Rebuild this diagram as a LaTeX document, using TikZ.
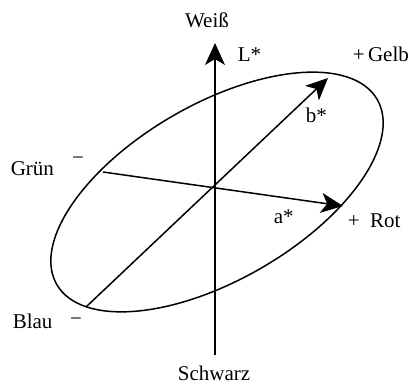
\documentclass[tikz,border=0pt]{standalone}
\usepackage{fontspec}
\setmainfont{Liberation Serif}
\usetikzlibrary{arrows.meta}
\begin{document}
\begin{tikzpicture}[x=1pt,y=-1pt, line width=1.5pt,
  lbl/.style={font=\fontsize{21}{25}\selectfont, inner sep=0pt},
  axarrow/.style={-{Stealth[length=22pt,width=20pt,inset=6pt]}}]
\useasboundingbox (0,0) rectangle (410,385);
\coordinate (O) at (215,187);
\coordinate (Ltop) at (215,43);
\coordinate (Lbot) at (215,355);
\coordinate (blau) at (86,307);
\coordinate (gelb) at (328,78);
\coordinate (gruen) at (103,172);
\coordinate (rot) at (343,206);
\coordinate (ec) at (217,192);
\draw[rotate around={30:(ec)}] (ec) ellipse [x radius=185, y radius=88];
\draw[axarrow] (Lbot) -- (Ltop);
\draw[axarrow] (blau) -- (gelb);
\draw[axarrow] (gruen) -- (rot);
\node[lbl, anchor=base] (weiss) at (207,28) {Weiß};
\node[lbl, anchor=base west] (lstar) at (237,62) {L*};
\node[lbl, anchor=base west] (gelbl) at (352,62) {+\,Gelb};
\node[lbl, anchor=base west] (bstar) at (305,123) {b*};
\node[lbl, anchor=base west] (gruenl) at (10,176) {Grün};
\node[lbl] (gminus) at (78,161) {−};
\node[lbl, anchor=base west] (blaul) at (12,328) {Blau};
\node[lbl] (bminus) at (76,322) {−};
\node[lbl, anchor=base west] (astar) at (273,223) {a*};
\node[lbl, anchor=base west] (rotl) at (347,227) {+\enspace Rot};
\node[lbl, anchor=base] (schwarz) at (214,380) {Schwarz};
\end{tikzpicture}
\end{document}
